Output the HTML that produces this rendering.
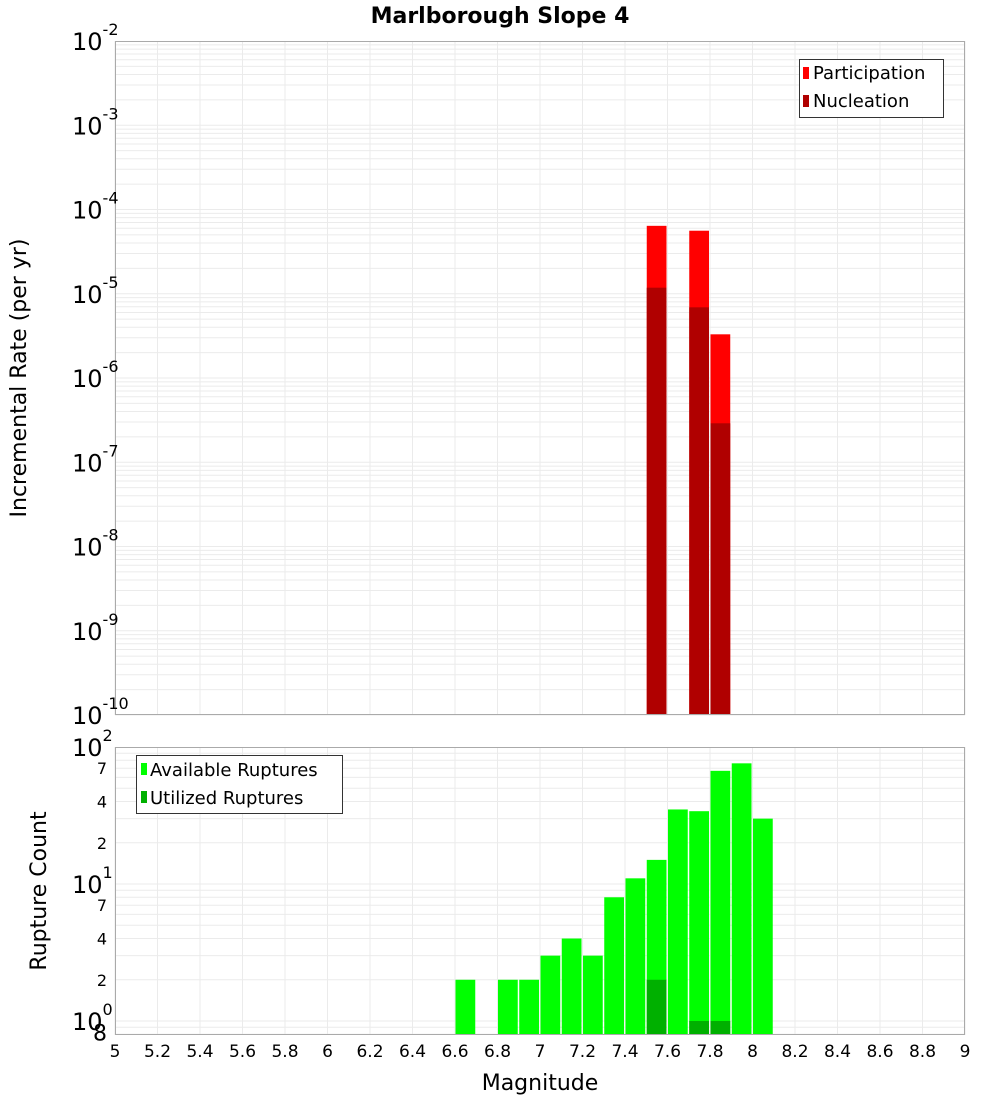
<!DOCTYPE html>
<html><head><meta charset="utf-8">
<style>
html,body{margin:0;padding:0;background:#fff;}
svg{display:block;font-family:"DejaVu Sans","Liberation Sans",sans-serif;}
</style></head>
<body>
<svg id="chart" width="1000" height="1100" viewBox="0 0 1000 1100" xmlns="http://www.w3.org/2000/svg">
<text x="500" y="23" text-anchor="middle" font-size="22" font-weight="bold">Marlborough Slope 4</text>
<g id="grid"></g>
<g id="marks"></g>
<g id="axes"></g>
<text transform="translate(26,378) rotate(-90)" text-anchor="middle" font-size="22">Incremental Rate (per yr)</text>
<text transform="translate(46,891) rotate(-90)" text-anchor="middle" font-size="22">Rupture Count</text>
<text x="540" y="1090" text-anchor="middle" font-size="22">Magnitude</text>
<g>
<rect x="799.5" y="59.5" width="144" height="58" fill="#fff" stroke="#333" stroke-width="1"/>
<rect x="803" y="67" width="6" height="12" fill="#ff0000"/>
<text x="813" y="79" font-size="18">Participation</text>
<rect x="803" y="95" width="6" height="12" fill="#b00000"/>
<text x="813" y="107" font-size="18">Nucleation</text>
</g>
<g>
<rect x="136.5" y="755.5" width="206" height="58" fill="#fff" stroke="#333" stroke-width="1"/>
<rect x="141" y="763" width="6" height="12" fill="#00ff00"/>
<text x="150" y="776" font-size="18">Available Ruptures</text>
<rect x="141" y="791" width="6" height="12" fill="#00b000"/>
<text x="150" y="804" font-size="18">Utilized Ruptures</text>
</g>
</svg>
<script>
const magBins = [7.5, 7.7, 7.8];
const participation = [6.4e-5, 5.6e-5, 3.3e-6];
const nucleation = [1.18e-5, 6.9e-6, 2.9e-7];
const countBins = [6.6, 6.8, 6.9, 7.0, 7.1, 7.2, 7.3, 7.4, 7.5, 7.6, 7.7, 7.8, 7.9, 8.0];
const availableCounts = [2, 2, 2, 3, 4, 3, 8, 11, 15, 35, 34, 67, 76, 30];
const utilizedBins = [7.5, 7.7, 7.8];
const utilizedCounts = [2, 1, 1];
const xTickLabels = ["5","5.2","5.4","5.6","5.8","6","6.2","6.4","6.6","6.8","7","7.2","7.4","7.6","7.8","8","8.2","8.4","8.6","8.8","9"];
const topExponents = [-2,-3,-4,-5,-6,-7,-8,-9,-10];

const NS = "http://www.w3.org/2000/svg";
const L = 115, R = 965;
const T1 = 41, B1 = 715, T2 = 747, B2 = 1035;
function xS(m){ return L + (m - 5) / 4 * (R - L); }
function yTop(v){ return T1 + (-2 - Math.log10(v)) / 8 * (B1 - T1); }
const DEC2 = 137;
function yBot(v){ return 1021 - Math.log10(v) * DEC2; }
function mk(tag, attrs, parent){ const e = document.createElementNS(NS, tag); for (const k in attrs) e.setAttribute(k, attrs[k]); parent.appendChild(e); return e; }
const grid = document.getElementById('grid'), marks = document.getElementById('marks'), axes = document.getElementById('axes');

// backgrounds
mk('rect', {x:L, y:T1, width:R-L, height:B1-T1, fill:'#fff'}, grid);
// top horizontal grid
for (let d = -10; d < -2; d++) {
  for (let k = 1; k <= 9; k++) {
    const y = yTop(k * Math.pow(10, d));
    const ln = mk('line', {x1:L, x2:R, y1:y, y2:y, stroke:'#ebebeb', 'stroke-width':1}, grid);
    
    
  }
}
// bottom horizontal grid
for (let d = -1; d < 2; d++) {
  for (let k = 1; k <= 9; k++) {
    const v = k * Math.pow(10, d);
    const y = yBot(v);
    if (y < T2 || y > B2) continue;
    const ln = mk('line', {x1:L, x2:R, y1:y, y2:y, stroke:'#ebebeb', 'stroke-width':1}, grid);
    
    
  }
}
// vertical grid + x ticks
xTickLabels.forEach((lab) => {
  const x = xS(parseFloat(lab));
  [[T1,B1],[T2,B2]].forEach(([a,b]) => {
    const ln = mk('line', {x1:x, x2:x, y1:a, y2:b, stroke:'#ebebeb', 'stroke-width':1}, grid);
    
    
  });
  const t = mk('text', {x:x, y:1057, 'text-anchor':'middle', 'font-size':17}, axes);
  t.textContent = lab;
  
  
});

// top bars
const bw = (R - L) / 40;
magBins.forEach((m, i) => {
  const x = xS(m) + 0.5, w = bw - 1.5;
  let y = yTop(participation[i]);
  const p = mk('rect', {x:x, y:y, width:w, height:B1 - y, fill:'#ff0000'}, marks);
  
  
  y = yTop(nucleation[i]);
  const n = mk('rect', {x:x, y:y, width:w, height:B1 - y, fill:'#b00000'}, marks);
  
  
});
// bottom bars
countBins.forEach((m, i) => {
  const y = yBot(availableCounts[i]);
  const r = mk('rect', {x:xS(m) + 0.5, y:y, width:bw - 1.5, height:B2 - y, fill:'#00ff00'}, marks);
  
  
});
utilizedBins.forEach((m, i) => {
  const y = yBot(utilizedCounts[i]);
  const r = mk('rect', {x:xS(m) + 0.5, y:y, width:bw - 1.5, height:B2 - y, fill:'#00b000'}, marks);
  
  
});

// frames
mk('rect', {x:L+0.5, y:T1+0.5, width:R-L-1, height:B1-T1-1, fill:'none', stroke:'#aaa', 'stroke-width':1}, axes);
mk('rect', {x:L+0.5, y:T2+0.5, width:R-L-1, height:B2-T2-1, fill:'none', stroke:'#aaa', 'stroke-width':1}, axes);

// top y labels
topExponents.forEach((e) => {
  const y = yTop(Math.pow(10, e));
  const t = mk('text', {x:72, y:y + 9, 'font-size':24}, axes);
  
  
  t.textContent = '10';
  const s = mk('tspan', {dy:-15, 'font-size':16}, t);
  s.textContent = String(e);
});
// bottom y labels
[[100,'2'],[10,'1'],[1,'0']].forEach(([v, e]) => {
  const y = yBot(v);
  const t = mk('text', {x:72, y:y + 9, 'font-size':24}, axes);
  
  
  t.textContent = '10';
  const s = mk('tspan', {dy:-15, 'font-size':16}, t);
  s.textContent = e;
});
[[70,'7'],[40,'4'],[20,'2'],[7,'7'],[4,'4'],[2,'2'],[0.8,'8']].forEach(([v, lab]) => {
  const y = yBot(v);
  const t = mk('text', {x:107, y:y + 6, 'text-anchor':'end', 'font-size': lab === '8' && v < 1 ? 22 : 16}, axes);
  
  
  t.textContent = lab;
});
</script>
</body></html>
